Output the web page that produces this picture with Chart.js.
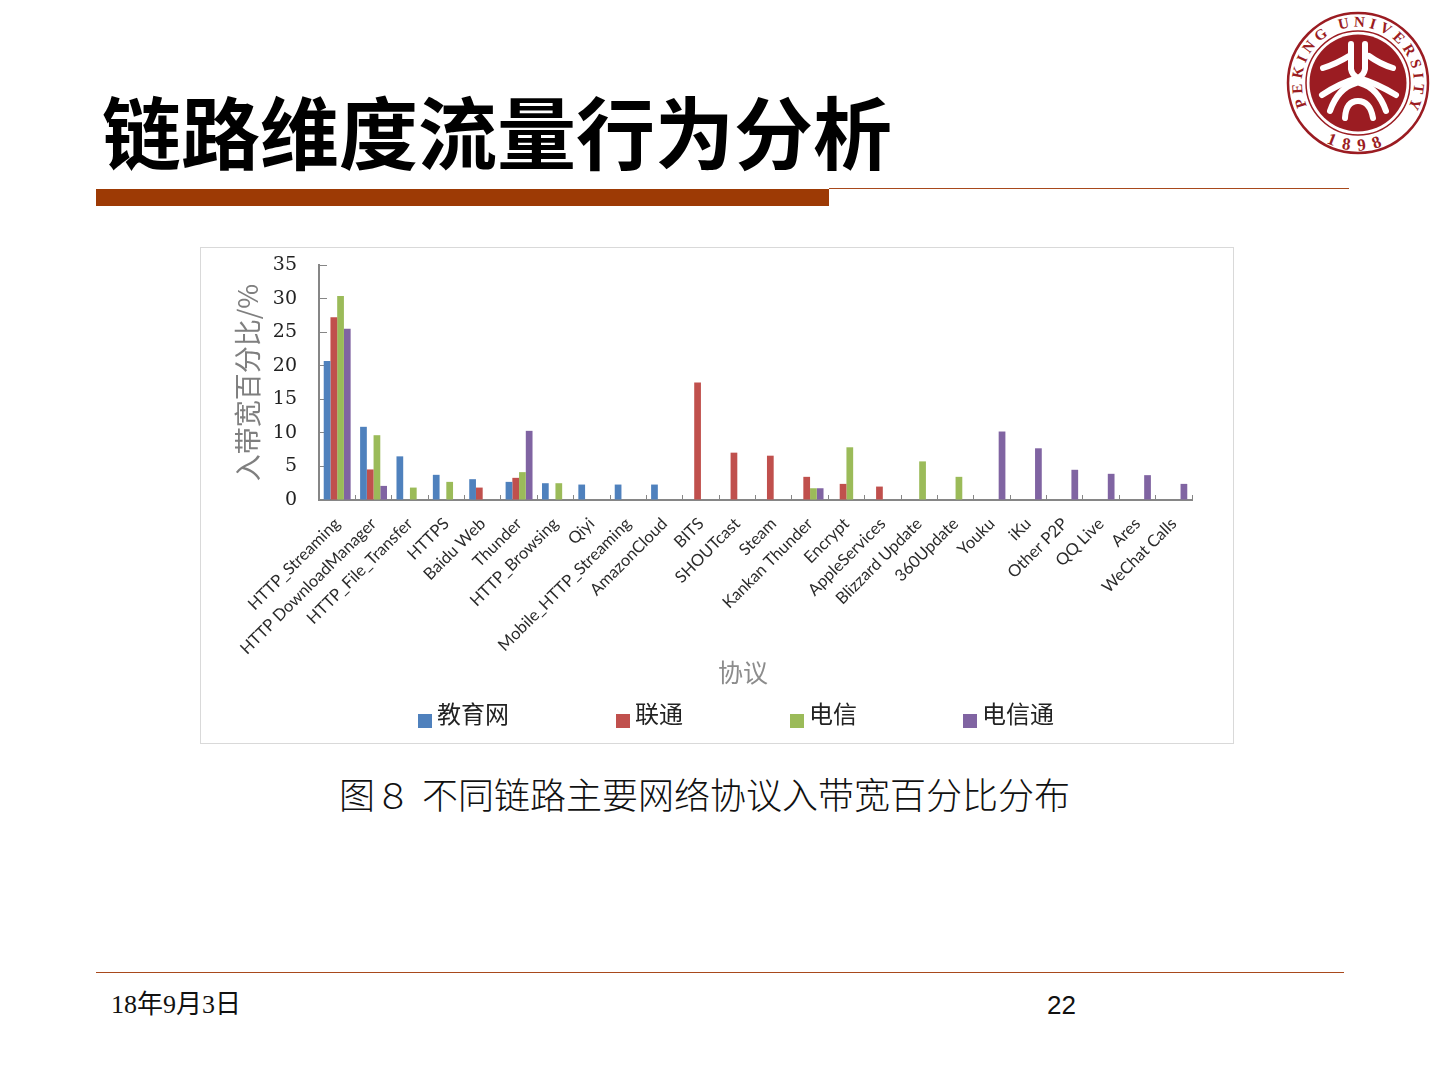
<!DOCTYPE html>
<html lang="zh">
<head>
<meta charset="utf-8">
<title>链路维度流量行为分析</title>
<script src="https://cdn.jsdelivr.net/npm/chart.js@4"></script>
<style>
  html, body { margin: 0; background: #fff; }
  body { position: relative; width: 1440px; height: 1080px; overflow: hidden; font-family: "Noto Sans CJK SC", sans-serif; }
  .abs { position: absolute; white-space: pre; }
  #title { left: 102px; top: 73px; font-size: 79px; line-height: 114px; font-weight: 700; color: #000; }
  #chart-box { left: 200px; top: 247px; width: 1034px; height: 497px; box-sizing: border-box; border: 1px solid #d9d9d9; }
  #chart-box canvas { position: absolute; left: -1px; top: -1px; }
  .legend-box { position: absolute; width: 14px; height: 14px; top: 714px; }
  .legend-text { position: absolute; top: 696px; font-size: 24px; line-height: 34px; color: #222; }
  #caption { left: 339px; top: 767px; font-size: 36px; line-height: 52px; font-weight: 300; word-spacing: 3px; color: #111; }
  #date { left: 111px; top: 990px; font: 26px/30px "Liberation Serif", "Noto Sans CJK SC", serif; color: #111; }
  #page { left: 1047px; top: 990px; font: 26px/30px "Liberation Sans", sans-serif; color: #111; }
</style>
</head>
<body>
<div class="abs" id="title">链路维度流量行为分析</div>
<div class="abs" style="left:96px;top:189px;width:733px;height:17px;background:#9d3a05"></div>
<div class="abs" style="left:829px;top:188px;width:520px;height:1px;background:#a8491c"></div>
<div class="abs" style="left:96px;top:972px;width:1248px;height:1px;background:#a8491c"></div>

<svg class="abs" style="left:1280px;top:5px" width="156" height="156" viewBox="-78 -78 156 156">
  <circle r="70" fill="#fff" stroke="#9b1c22" stroke-width="2.5"/>
  <circle r="52" fill="none" stroke="#9b1c22" stroke-width="1.5"/>
  <circle r="48.5" fill="#9b1c22"/>
  <defs>
    <path id="ring-top" d="M -51 23 A 56 56 0 1 1 51 23"/>
    <path id="ring-bottom" d="M -36 57 A 67 67 0 0 0 36 57"/>
  </defs>
  <text font-family="Liberation Serif" font-size="15" font-weight="700" fill="#9b1c22" letter-spacing="4.2"><textPath href="#ring-top">PEKING UNIVERSITY</textPath></text>
  <text font-family="Liberation Serif" font-size="17" font-weight="700" fill="#9b1c22" letter-spacing="8" text-anchor="middle"><textPath href="#ring-bottom" startOffset="50%">1898</textPath></text>
  <g fill="none" stroke="#fff" stroke-width="6" stroke-linecap="round" stroke-linejoin="round">
    <path d="M -7 -39 L -7 -14 Q -6 -8 0 -5 Q 6 -8 7 -14 L 7 -39"/>
    <path d="M -35 -15 Q -22 -19 -9 -27"/>
    <path d="M 11 -27 Q 22 -19 35 -15"/>
    <path d="M 0 -5 Q -18 0 -36 12"/>
    <path d="M 0 -5 Q 18 0 38 12"/>
    <path d="M -2 0 Q -20 5 -28 28"/>
    <path d="M 2 0 Q 20 5 28 28"/>
    <path d="M -13 35 Q -12 18 0 18 Q 12 18 15 35"/>
  </g>
</svg>

<div class="abs" id="chart-box"><canvas id="chart" width="1033" height="496"></canvas></div>
<div id="legend"></div>

<div class="abs" id="caption">图８ 不同链路主要网络协议入带宽百分比分布</div>
<div class="abs" id="date">18年9月3日</div>
<div class="abs" id="page">22</div>

<script>
const categories = ['HTTP_Streaming', 'HTTP DownloadManager', 'HTTP_File_Transfer', 'HTTPS', 'Baidu Web', 'Thunder',
  'HTTP_Browsing', 'Qiyi', 'Mobile_HTTP_Streaming', 'AmazonCloud', 'BITS', 'SHOUTcast', 'Steam', 'Kankan Thunder',
  'Encrypt', 'AppleServices', 'Blizzard Update', '360Update', 'Youku', 'iKu', 'Other P2P', 'QQ Live', 'Ares', 'WeChat Calls'];

const jiaoyu   = [20.7, 10.9, 6.5, 3.75, 3.1, 2.7, 2.5, 2.3, 2.3, 2.3, null, null, null, null, null, null, null, null, null, null, null, null, null, null];
const liantong = [27.2, 4.55, null, null, 1.85, 3.3, null, null, null, null, 17.5, 7.05, 6.6, 3.45, 2.4, 2.0, null, null, null, null, null, null, null, null];
const dianxin  = [30.4, 9.65, 1.85, 2.7, null, 4.15, 2.5, null, null, null, null, null, null, 1.75, 7.85, null, 5.75, 3.45, null, null, null, null, null, null];
const dianxintong = [25.5, 2.1, null, null, null, 10.3, null, null, null, null, null, null, null, 1.75, null, null, null, null, 10.2, 7.7, 4.5, 3.9, 3.7, 2.4];

const seriesNames = ['教育网', '联通', '电信', '电信通'];
const seriesColors = ['#4f81bd', '#c0504d', '#9bbb59', '#8064a2'];
const yTicks = [0, 5, 10, 15, 20, 25, 30, 35];

const legendBoxX = [418, 616, 790, 963];
const legendEl = document.getElementById('legend');
seriesNames.forEach((name, i) => {
    const box = document.createElement('div');
    box.className = 'legend-box';
    box.style.left = legendBoxX[i] + 'px';
    box.style.background = seriesColors[i];
    const label = document.createElement('div');
    label.className = 'legend-text';
    label.style.left = (legendBoxX[i] + 19) + 'px';
    label.textContent = name;
    legendEl.appendChild(box);
    legendEl.appendChild(label);
});

const axisGray = '#868686';
const ctx = document.getElementById('chart').getContext('2d');
const chart = new Chart(ctx, {
    type: 'bar',
    data: {
        labels: categories,
        datasets: [jiaoyu, liantong, dianxin, dianxintong].map((values, i) => ({
            label: seriesNames[i],
            data: values,
            backgroundColor: seriesColors[i],
            borderWidth: 0,
            categoryPercentage: 0.74,
            barPercentage: 1
        }))
    },
    options: {
        responsive: false,
        animation: false,
        layout: { autoPadding: false, padding: { top: 18, right: 41, left: 0, bottom: 0 } },
        plugins: { legend: { display: false }, tooltip: { enabled: false } },
        scales: {
            x: {
                afterFit: scale => { scale.height = 243; scale.paddingLeft = 0; scale.paddingRight = 0; },
                grid: { drawOnChartArea: false, tickLength: -5, tickColor: axisGray, lineWidth: 1 },
                border: { color: axisGray, width: 2 },
                ticks: {
                    autoSkip: false,
                    minRotation: 45,
                    maxRotation: 45,
                    padding: 19,
                    color: '#2b2b2b',
                    font: { family: 'Lato', size: 16.5 }
                },
                title: {
                    display: true,
                    text: '协议\u3000', // trailing space pulls the centred title left, as in the original
                    color: '#8c8c8c',
                    font: { family: 'Noto Sans CJK SC', size: 25 },
                    padding: { top: 0, bottom: 56 }
                }
            },
            y: {
                min: 0,
                max: 35,
                afterFit: scale => { scale.width = 119; scale.paddingTop = 0; scale.paddingBottom = 0; },
                afterBuildTicks: scale => { scale.ticks = yTicks.map(v => ({ value: v })); },
                grid: { drawOnChartArea: false, tickLength: -8, tickColor: axisGray, lineWidth: 1 },
                border: { color: axisGray, width: 2 },
                ticks: {
                    autoSkip: false,
                    padding: 30,
                    color: '#222',
                    font: { family: 'DejaVu Serif', size: 19 }
                },
                title: {
                    display: true,
                    text: '入带宽百分比/%',
                    color: '#7f7f7f',
                    font: { family: 'Noto Sans CJK SC', size: 27 },
                    padding: { top: 32, bottom: 0 }
                }
            }
        }
    }
});
</script>
</body>
</html>
